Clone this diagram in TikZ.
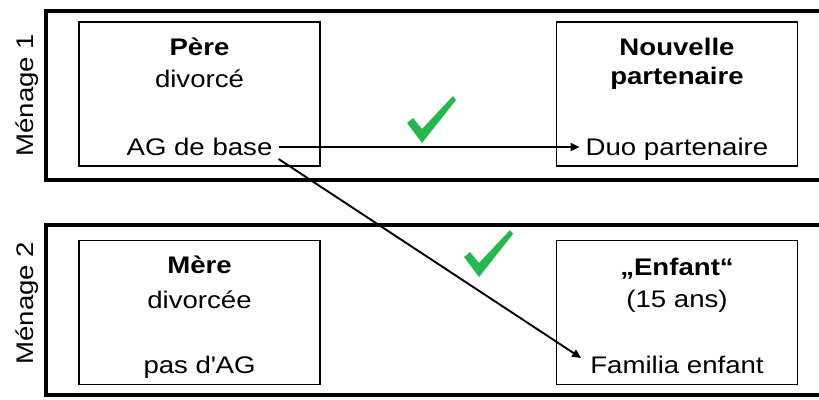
\documentclass[tikz,border=0pt]{standalone}
\usepackage{fontspec}
\setmainfont{Liberation Sans}[FakeStretch=1.15]
\usetikzlibrary{arrows.meta}
\definecolor{checkgreen}{RGB}{38,184,76}
\tikzset{
  outerbox/.style={draw=black, line width=3.5pt, minimum width=784pt, inner sep=0pt},
  innerbox/.style={draw=black, line width=1.6pt, minimum width=241pt, minimum height=144pt, inner sep=0pt},
  txt/.style={anchor=base, inner sep=0pt, font=\fontsize{24}{29}\selectfont},
  endtxt/.style={anchor=base, inner ysep=0pt, inner xsep=6pt, font=\fontsize{24}{29}\selectfont},
  sidelabel/.style={rotate=90, anchor=base, inner sep=0pt, font=\fontsize{24}{29}\selectfont},
  arr/.style={line width=1.9pt, -{Triangle[length=9pt,width=8pt]}},
  check/.pic={\fill[checkgreen] (-15,-19) -- (-9,-24) -- (0,-13) -- (31,-46) -- (34,-42) -- (0,1) -- cycle;}
}
\begin{document}
\begin{tikzpicture}[x=1pt, y=-1pt]
\clip (0,0) rectangle (819,399);
\fill[white] (0,0) rectangle (819,399);
% households
\node[outerbox, minimum height=169pt] (m1) at (438,95.5) {};
\node[outerbox, minimum height=170pt] (m2) at (438,310) {};
\node[sidelabel] (lm1) at (33,95) {Ménage 1};
\node[sidelabel] (lm2) at (33,303) {Ménage 2};
% persons
\node[innerbox] (pere) at (199.5,94) {};
\node[innerbox] (part) at (677,94) {};
\node[innerbox] (mere) at (199.5,312.5) {};
\node[innerbox] (enf) at (677,312.5) {};
% texts
\node[txt] (t1) at (199.5,55) {\textbf{Père}};
\node[txt] (t2) at (199.5,87) {divorcé};
\node[endtxt] (agbase) at (199.5,155) {AG de base};
\node[txt] (t3) at (677,55) {\textbf{Nouvelle}};
\node[txt] (t4) at (677,84) {\textbf{partenaire}};
\node[endtxt] (duo) at (677,155) {Duo partenaire};
\node[txt] (t5) at (199.5,273) {\textbf{Mère}};
\node[txt] (t6) at (199.5,308) {divorcée};
\node[txt] (t7) at (199.5,373) {pas d\textquotesingle AG};
\node[txt] (t8) at (677,275) {\textbf{„Enfant“}};
\node[txt] (t9) at (677,307) {(15 ans)};
\node[endtxt] (famenf) at (677,373) {Familia enfant};
% arrows
\draw[arr] ([yshift=8pt]agbase.base east) -- ([yshift=8pt]duo.base west);
\draw[arr] ([yshift=-4pt]agbase.base east) -- ([yshift=15pt,xshift=-3pt]famenf.base west);
% checks
\pic at (422,142) {check};
\pic at (479,276) {check};
\end{tikzpicture}
\end{document}
